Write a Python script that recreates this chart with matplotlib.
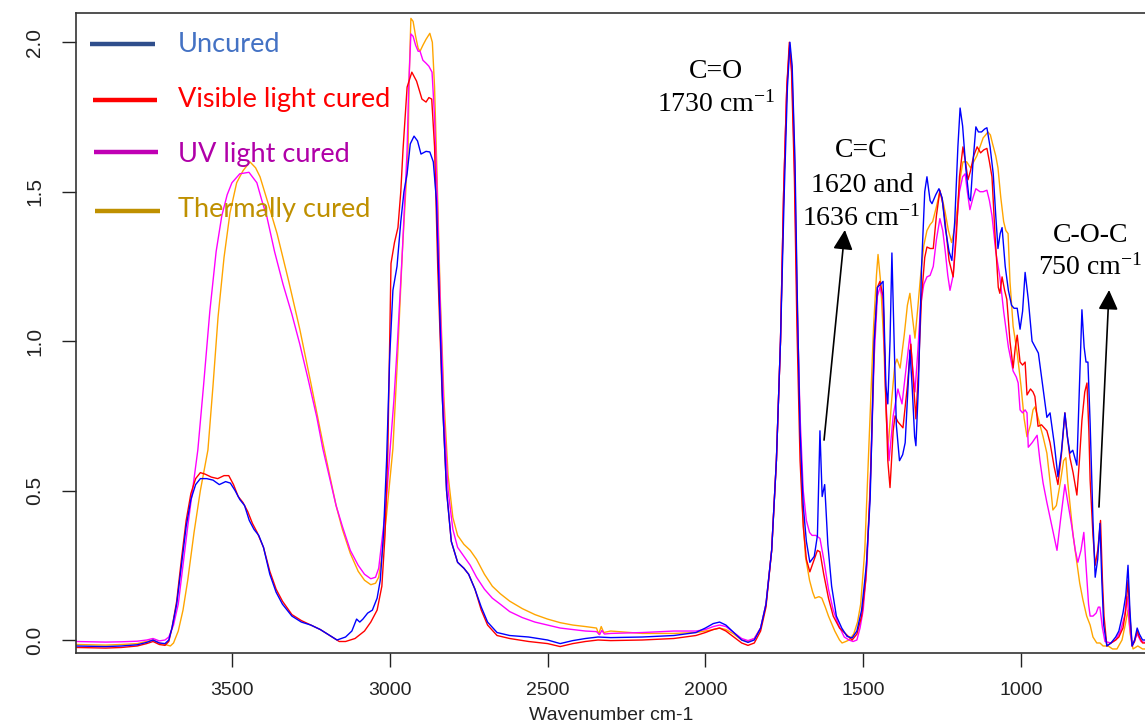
import matplotlib
matplotlib.use("Agg")
import matplotlib.pyplot as plt
from matplotlib.lines import Line2D

plt.rcParams['font.family'] = ['Liberation Sans', 'DejaVu Sans']
plt.rcParams['mathtext.default'] = 'regular'

# FTIR spectra, (wavenumber, absorbance)
uncured = [(3995,-0.02),(3900,-0.022),(3850,-0.02),(3800,-0.016),(3770,-0.008),(3750,0.0),(3730,-0.01),(3712,-0.012),(3700,0.0),(3690,0.04),(3675,0.12),(3660,0.25),(3645,0.38),(3630,0.47),(3615,0.52),(3600,0.54),(3580,0.54),(3560,0.535),(3540,0.52),(3520,0.53),(3505,0.525),(3490,0.5),(3475,0.47),(3460,0.45),(3445,0.4),(3430,0.37),(3415,0.35),(3400,0.31),(3380,0.22),(3360,0.16),(3340,0.12),(3310,0.08),(3280,0.06),(3250,0.05),(3220,0.035),(3190,0.015),(3167,0.0),(3140,0.01),(3120,0.03),(3105,0.07),(3095,0.06),(3085,0.07),(3070,0.09),(3055,0.1),(3040,0.14),(3030,0.2),(3020,0.35),(3010,0.6),(3000,0.95),(2990,1.17),(2977,1.25),(2965,1.4),(2955,1.5),(2945,1.56),(2935,1.66),(2923,1.686),(2912,1.67),(2901,1.626),(2885,1.635),(2873,1.633),(2862,1.6),(2852,1.47),(2843,1.15),(2833,0.8),(2820,0.5),(2805,0.33),(2785,0.26),(2765,0.24),(2750,0.22),(2730,0.17),(2710,0.11),(2690,0.06),(2660,0.025),(2620,0.015),(2560,0.01),(2500,0.0),(2460,-0.012),(2420,-0.002),(2380,0.005),(2340,0.01),(2300,0.008),(2200,0.01),(2100,0.015),(2030,0.025),(2000,0.04),(1975,0.055),(1955,0.06),(1935,0.05),(1910,0.025),(1885,0.0),(1865,-0.008),(1845,0.0),(1825,0.04),(1808,0.12),(1790,0.3),(1775,0.6),(1762,1.0),(1750,1.5),(1740,1.85),(1732,2.0),(1725,1.92),(1716,1.6),(1708,1.1),(1700,0.7),(1690,0.45),(1680,0.33),(1669,0.26),(1655,0.28),(1645,0.35),(1637,0.7),(1630,0.48),(1622,0.52),(1612,0.32),(1600,0.18),(1585,0.08),(1568,0.04),(1551,0.012),(1535,0.007),(1520,0.03),(1505,0.1),(1490,0.25),(1478,0.47),(1465,1.0),(1455,1.18),(1445,1.19),(1437,1.2),(1428,0.85),(1422,0.79),(1415,1.0),(1409,1.295),(1402,1.0),(1395,0.72),(1385,0.6),(1375,0.62),(1367,0.66),(1358,0.85),(1352,0.97),(1345,0.85),(1337,0.68),(1333,0.65),(1325,0.85),(1315,1.25),(1305,1.5),(1298,1.55),(1288,1.47),(1282,1.46),(1270,1.49),(1260,1.51),(1250,1.48),(1240,1.38),(1228,1.3),(1219,1.27),(1210,1.4),(1200,1.65),(1193,1.78),(1185,1.72),(1175,1.58),(1165,1.48),(1160,1.47),(1152,1.6),(1143,1.717),(1135,1.7),(1125,1.7),(1115,1.71),(1108,1.714),(1098,1.65),(1088,1.56),(1080,1.42),(1073,1.31),(1066,1.36),(1060,1.38),(1050,1.25),(1040,1.17),(1030,1.12),(1022,1.11),(1012,1.11),(1003,1.04),(995,1.1),(987,1.23),(977,1.14),(970,1.06),(965,1.0),(955,0.98),(945,0.96),(935,0.88),(925,0.8),(918,0.745),(908,0.76),(895,0.66),(883,0.546),(872,0.63),(861,0.76),(853,0.68),(845,0.625),(836,0.635),(823,0.585),(815,0.85),(807,1.105),(800,0.98),(794,0.93),(788,0.93),(781,0.725),(772,0.4),(765,0.21),(757,0.27),(750,0.39),(744,0.2),(738,0.05),(728,-0.02),(715,-0.01),(700,0.01),(690,0.03),(677,0.09),(668,0.15),(661,0.25),(655,0.1),(648,-0.02),(640,0.0),(632,0.04),(625,0.02),(615,0.0),(600,0.0)]

visible = [(3995,-0.025),(3900,-0.027),(3850,-0.025),(3800,-0.02),(3770,-0.012),(3750,-0.005),(3730,-0.015),(3712,-0.018),(3700,-0.005),(3690,0.04),(3675,0.13),(3660,0.27),(3645,0.4),(3630,0.49),(3615,0.54),(3600,0.56),(3585,0.555),(3565,0.545),(3545,0.54),(3525,0.55),(3510,0.55),(3495,0.52),(3480,0.48),(3465,0.46),(3450,0.43),(3435,0.39),(3420,0.36),(3400,0.31),(3380,0.23),(3360,0.17),(3340,0.13),(3310,0.085),(3280,0.065),(3250,0.05),(3220,0.035),(3190,0.015),(3160,-0.005),(3140,-0.005),(3110,0.005),(3080,0.03),(3060,0.06),(3040,0.1),(3025,0.18),(3015,0.35),(3006,0.636),(2996,1.26),(2985,1.33),(2974,1.38),(2965,1.5),(2958,1.64),(2945,1.85),(2930,1.9),(2915,1.87),(2898,1.81),(2885,1.80),(2876,1.815),(2867,1.81),(2858,1.65),(2848,1.25),(2835,0.85),(2820,0.5),(2805,0.33),(2785,0.26),(2765,0.24),(2750,0.22),(2730,0.17),(2710,0.1),(2690,0.05),(2660,0.015),(2620,0.005),(2560,-0.005),(2500,-0.012),(2460,-0.022),(2420,-0.012),(2380,-0.005),(2340,0.0),(2300,-0.002),(2200,0.0),(2100,0.005),(2030,0.015),(2000,0.025),(1975,0.035),(1955,0.04),(1935,0.03),(1910,0.01),(1885,-0.01),(1865,-0.018),(1845,-0.01),(1825,0.03),(1808,0.11),(1790,0.3),(1775,0.6),(1762,1.0),(1752,1.5),(1742,1.85),(1734,2.0),(1727,1.9),(1718,1.55),(1710,1.05),(1700,0.6),(1690,0.38),(1680,0.27),(1669,0.228),(1655,0.27),(1645,0.3),(1637,0.295),(1625,0.22),(1610,0.14),(1595,0.08),(1575,0.04),(1555,0.02),(1535,0.0),(1520,0.02),(1505,0.08),(1492,0.2),(1478,0.5),(1465,1.0),(1455,1.18),(1447,1.2),(1437,1.15),(1428,0.8),(1422,0.6),(1415,0.51),(1405,0.7),(1399,0.75),(1390,0.73),(1374,0.71),(1360,0.85),(1349,0.99),(1340,0.85),(1333,0.74),(1325,0.9),(1315,1.15),(1305,1.28),(1298,1.315),(1288,1.31),(1278,1.31),(1268,1.42),(1257,1.505),(1248,1.46),(1241,1.405),(1228,1.27),(1215,1.215),(1205,1.35),(1195,1.55),(1184,1.65),(1176,1.6),(1168,1.54),(1160,1.57),(1150,1.62),(1139,1.65),(1128,1.63),(1118,1.64),(1108,1.645),(1100,1.6),(1092,1.55),(1082,1.35),(1072,1.18),(1067,1.16),(1060,1.215),(1052,1.17),(1045,1.14),(1035,1.0),(1025,0.91),(1018,0.98),(1012,1.02),(1003,0.93),(995,0.92),(987,0.93),(981,0.82),(970,0.84),(962,0.83),(956,0.815),(946,0.715),(935,0.72),(918,0.70),(908,0.66),(895,0.58),(883,0.52),(872,0.62),(861,0.76),(853,0.68),(845,0.61),(835,0.56),(823,0.485),(815,0.6),(807,0.735),(798,0.83),(791,0.86),(785,0.7),(781,0.535),(772,0.35),(765,0.25),(757,0.3),(748,0.4),(742,0.2),(737,0.08),(728,-0.02),(715,-0.01),(700,0.0),(690,0.01),(677,0.04),(668,0.1),(661,0.2),(655,0.08),(648,-0.02),(640,-0.005),(632,0.03),(625,0.01),(615,-0.01),(600,-0.01)]

uv = [(3995,-0.005),(3900,-0.007),(3850,-0.006),(3800,-0.004),(3770,0.0),(3750,0.005),(3730,-0.003),(3712,0.0),(3700,0.01),(3685,0.05),(3670,0.12),(3655,0.25),(3640,0.38),(3625,0.5),(3608,0.636),(3590,0.85),(3570,1.1),(3550,1.3),(3532,1.42),(3515,1.49),(3500,1.53),(3475,1.56),(3446,1.565),(3421,1.53),(3405,1.47),(3389,1.415),(3365,1.3),(3338,1.19),(3310,1.09),(3285,0.99),(3258,0.87),(3231,0.745),(3212,0.64),(3190,0.54),(3170,0.45),(3150,0.38),(3125,0.3),(3100,0.25),(3080,0.22),(3060,0.205),(3045,0.21),(3035,0.24),(3025,0.33),(3012,0.45),(2999,0.636),(2987,0.8),(2977,0.97),(2960,1.3),(2945,1.64),(2940,1.85),(2933,2.028),(2926,2.02),(2918,1.99),(2910,1.97),(2904,1.97),(2895,1.94),(2885,1.93),(2876,1.92),(2866,1.9),(2858,1.75),(2850,1.5),(2840,1.12),(2828,0.75),(2815,0.5),(2800,0.37),(2785,0.31),(2765,0.28),(2745,0.25),(2725,0.21),(2700,0.17),(2675,0.14),(2650,0.12),(2620,0.095),(2580,0.075),(2540,0.06),(2500,0.05),(2460,0.04),(2420,0.035),(2380,0.03),(2345,0.028),(2335,0.018),(2328,0.032),(2320,0.02),(2300,0.022),(2200,0.025),(2100,0.03),(2030,0.03),(2000,0.035),(1975,0.045),(1955,0.05),(1935,0.045),(1910,0.025),(1885,0.005),(1865,-0.002),(1845,0.005),(1825,0.04),(1808,0.12),(1790,0.3),(1775,0.6),(1762,1.0),(1752,1.5),(1742,1.85),(1733,1.99),(1726,1.9),(1718,1.6),(1710,1.15),(1700,0.75),(1690,0.5),(1680,0.4),(1670,0.36),(1662,0.35),(1650,0.35),(1637,0.34),(1625,0.27),(1610,0.17),(1595,0.1),(1578,0.05),(1560,0.01),(1545,0.0),(1532,-0.005),(1520,0.0),(1510,0.04),(1500,0.1),(1488,0.25),(1475,0.6),(1465,0.95),(1455,1.15),(1447,1.18),(1437,1.14),(1428,0.8),(1418,0.6),(1405,0.75),(1390,0.84),(1377,0.79),(1365,0.9),(1352,1.02),(1344,0.92),(1336,0.83),(1328,0.95),(1318,1.12),(1308,1.19),(1298,1.215),(1288,1.22),(1278,1.25),(1268,1.34),(1257,1.41),(1248,1.37),(1240,1.3),(1232,1.22),(1225,1.17),(1215,1.22),(1205,1.38),(1195,1.5),(1185,1.55),(1177,1.56),(1170,1.5),(1162,1.44),(1152,1.48),(1143,1.51),(1130,1.5),(1120,1.5),(1108,1.505),(1100,1.47),(1092,1.42),(1080,1.3),(1067,1.215),(1055,1.1),(1040,0.98),(1025,0.9),(1015,0.88),(1009,0.86),(1003,0.77),(995,0.76),(987,0.77),(981,0.76),(977,0.645),(965,0.66),(949,0.685),(940,0.6),(930,0.525),(918,0.46),(908,0.41),(896,0.35),(886,0.3),(875,0.4),(861,0.52),(850,0.45),(839,0.38),(828,0.3),(820,0.26),(810,0.3),(801,0.36),(794,0.25),(786,0.12),(781,0.08),(772,0.08),(762,0.09),(755,0.11),(750,0.11),(742,0.04),(734,-0.005),(715,-0.01),(700,0.0),(685,0.03),(672,0.08),(664,0.145),(656,0.05),(648,-0.02),(640,0.0),(632,0.02),(620,-0.005),(600,-0.01)]

thermal = [(3995,-0.015),(3900,-0.017),(3850,-0.015),(3800,-0.012),(3770,-0.005),(3750,0.0),(3730,-0.01),(3712,-0.015),(3695,-0.02),(3685,-0.01),(3670,0.03),(3655,0.1),(3640,0.2),(3620,0.36),(3600,0.5),(3576,0.636),(3560,0.85),(3544,1.08),(3525,1.28),(3506,1.43),(3485,1.53),(3465,1.57),(3443,1.60),(3425,1.58),(3411,1.55),(3385,1.46),(3357,1.36),(3320,1.2),(3285,1.04),(3250,0.86),(3212,0.66),(3190,0.55),(3170,0.45),(3150,0.37),(3125,0.29),(3100,0.23),(3080,0.2),(3060,0.185),(3045,0.19),(3035,0.21),(3025,0.28),(3010,0.42),(2990,0.64),(2975,0.95),(2960,1.3),(2942,1.64),(2938,1.9),(2933,2.08),(2926,2.07),(2918,2.02),(2910,1.98),(2904,1.97),(2895,1.99),(2885,2.01),(2873,2.03),(2865,2.0),(2858,1.85),(2850,1.55),(2840,1.15),(2828,0.8),(2815,0.55),(2800,0.41),(2785,0.35),(2765,0.32),(2745,0.3),(2725,0.27),(2700,0.22),(2675,0.18),(2650,0.155),(2620,0.13),(2580,0.105),(2540,0.085),(2500,0.07),(2460,0.058),(2420,0.05),(2380,0.045),(2345,0.04),(2338,0.02),(2330,0.045),(2322,0.025),(2300,0.03),(2200,0.022),(2100,0.022),(2030,0.025),(2000,0.03),(1975,0.035),(1955,0.04),(1935,0.035),(1910,0.02),(1885,0.0),(1865,-0.005),(1845,0.005),(1825,0.04),(1808,0.12),(1790,0.3),(1775,0.6),(1762,1.0),(1752,1.5),(1742,1.85),(1733,1.99),(1726,1.92),(1718,1.65),(1710,1.2),(1702,0.8),(1693,0.45),(1683,0.28),(1670,0.2),(1660,0.16),(1653,0.14),(1640,0.145),(1631,0.14),(1620,0.11),(1610,0.08),(1590,0.03),(1575,0.0),(1567,-0.01),(1555,-0.005),(1545,0.0),(1530,0.02),(1518,0.06),(1508,0.12),(1495,0.3),(1480,0.7),(1467,1.05),(1458,1.22),(1453,1.29),(1445,1.2),(1435,1.0),(1427,0.75),(1421,0.645),(1410,0.8),(1400,0.92),(1393,0.94),(1383,0.91),(1370,1.02),(1360,1.12),(1352,1.16),(1344,1.08),(1336,1.01),(1328,1.1),(1318,1.22),(1308,1.32),(1298,1.37),(1288,1.39),(1280,1.40),(1268,1.45),(1257,1.50),(1248,1.47),(1240,1.43),(1230,1.37),(1220,1.33),(1210,1.38),(1200,1.46),(1192,1.55),(1184,1.60),(1172,1.6),(1160,1.58),(1150,1.6),(1140,1.62),(1130,1.65),(1120,1.68),(1112,1.69),(1105,1.70),(1097,1.69),(1090,1.66),(1080,1.62),(1073,1.58),(1064,1.48),(1055,1.40),(1048,1.37),(1041,1.36),(1035,1.2),(1025,1.05),(1012,0.96),(1000,0.85),(990,0.74),(981,0.68),(970,0.72),(962,0.77),(956,0.78),(945,0.74),(930,0.68),(918,0.625),(908,0.53),(899,0.435),(888,0.45),(875,0.53),(865,0.6),(858,0.61),(852,0.53),(845,0.455),(835,0.35),(823,0.26),(814,0.19),(804,0.135),(792,0.08),(781,0.05),(772,0.01),(760,-0.01),(750,-0.01),(740,-0.02),(724,-0.02),(710,-0.03),(696,-0.03),(680,0.0),(670,0.05),(661,0.1),(654,0.02),(645,-0.03),(630,-0.02),(615,-0.03),(600,-0.03)]

series_names = ['Uncured', 'Visible light cured', 'UV light cured', 'Thermally cured']
legend_line_colors = ['#2F4E8C', '#FF0000', '#C000B4', '#BF9000']
legend_text_colors = ['#4472C4', '#FF0000', '#B000A8', '#BF9000']

xticks = [3500, 3000, 2500, 2000, 1500, 1000]
yticks = [0.0, 0.5, 1.0, 1.5, 2.0]

W, H = 1145, 726
fig = plt.figure(figsize=(W/100, H/100), dpi=100)
ax = fig.add_axes([76/W, (H-653)/H, (1146-76)/W, (653-13.3)/H])

# draw order: thermal, uv, visible, uncured on top
for data, col in [(thermal, 'orange'), (uv, 'magenta'), (visible, 'red'), (uncured, 'blue')]:
    wn = [p[0] for p in data]
    ab = [p[1] for p in data]
    ax.plot(wn, ab, color=col, lw=1.0)

ax.set_xlim(3994, 604)
ax.set_ylim(-0.0435, 2.097)
ax.spines['right'].set_visible(False)
for s in ['top', 'left', 'bottom']:
    ax.spines[s].set_color('#333333')
    ax.spines[s].set_linewidth(1.2)

ax.set_xticks(xticks)
ax.set_xticklabels([str(t) for t in xticks])
ax.set_yticks(yticks)
ax.set_yticklabels(['%.1f' % t for t in yticks], rotation=90, va='center')
ax.tick_params(axis='both', direction='out', length=10, width=1, labelsize=14, colors='#222222')
ax.tick_params(axis='x', pad=11)
ax.tick_params(axis='y', pad=13, labelsize=15)
ax.set_xlabel('Wavenumber cm-1', fontsize=14, labelpad=6, color='#222222')

# legend drawn by hand (line segments in pixel positions)
leg_lines = [(90, 155, 44), (93, 157, 100), (94, 158, 152), (95, 160, 211)]
leg_base = [52.3, 107.3, 162.3, 217.3]
for i, name in enumerate(series_names):
    x0, x1, yy = leg_lines[i]
    fig.add_artist(Line2D([x0/W, x1/W], [1-yy/H, 1-yy/H], color=legend_line_colors[i],
                          lw=3.2, transform=fig.transFigure, solid_capstyle='butt'))
    fig.text(178/W, 1-leg_base[i]/H, name, color=legend_text_colors[i], fontsize=19.5,
             family=['Lato', 'DejaVu Sans'], ha='left', va='baseline')

# peak labels
serif = ['Liberation Serif', 'DejaVu Serif']
labels = [(1966, 1.8795, 'C=O'), (1966, 1.7677, '1730 cm$^{-1}$'),
          (1507, 1.6151, 'C=C'), (1504, 1.50, '1620 and'), (1507, 1.3862, '1636 cm$^{-1}$'),
          (778, 1.3327, 'C-O-C'), (781, 1.2212, '750 cm$^{-1}$')]
for x, y, s in labels:
    ax.text(x, y, s, fontsize=20, family=serif, ha='center', va='baseline', color='black')

arrow_kw = dict(arrowstyle='-|>,head_length=0.6,head_width=0.3', color='black', lw=1.2,
                mutation_scale=20, shrinkA=0, shrinkB=0)
ax.annotate('', xy=(1558, 1.372), xytext=(1624, 0.669), arrowprops=arrow_kw)
ax.annotate('', xy=(721, 1.171), xytext=(753, 0.445), arrowprops=arrow_kw)

fig.savefig('out.png', dpi=100)
